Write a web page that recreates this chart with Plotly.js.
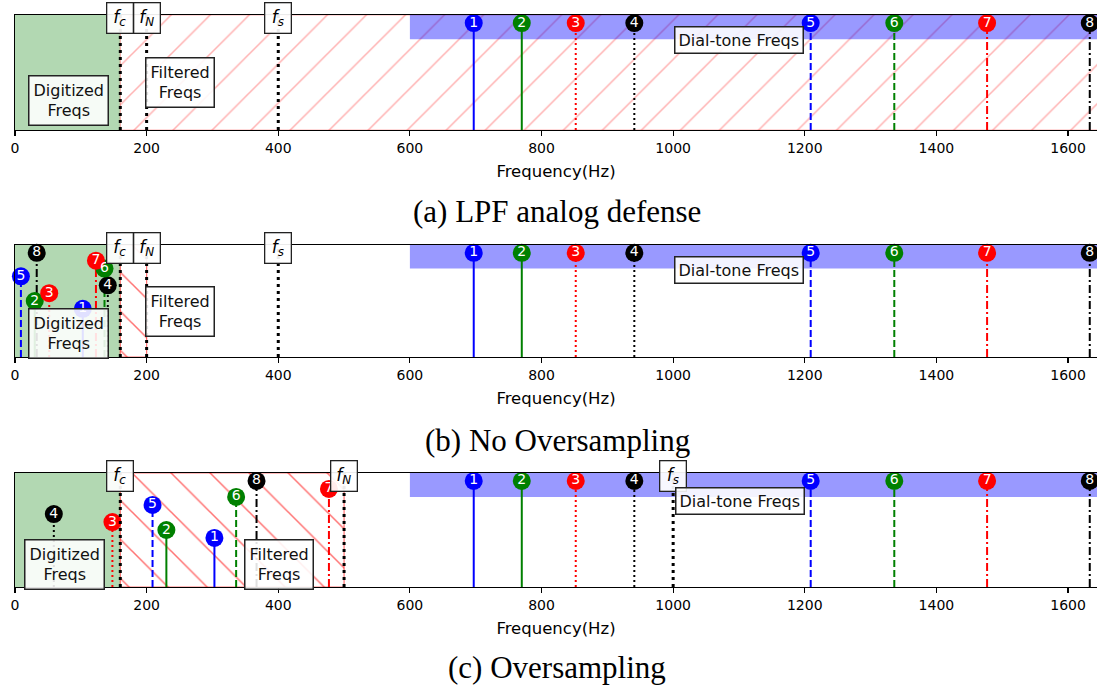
<!DOCTYPE html>
<html><head><meta charset="utf-8">
<script src="https://cdn.plot.ly/plotly-3.0.1.min.js"></script>
<style>html,body{margin:0;padding:0;background:#fff}#chart{width:1097px;height:685px}</style>
</head><body><div id="chart"></div>
<script>
// ---------------- data ----------------
const dialFreqs = [697, 770, 852, 941, 1209, 1336, 1477, 1633];
const toneLabels = ['1', '2', '3', '4', '5', '6', '7', '8'];
const toneColors = ['blue', 'green', 'red', 'black', 'blue', 'green', 'red', 'black'];
const toneStyles = ['solid', 'solid', 'dot', 'dot', 'dash', 'dash', 'dashdot', 'dashdot'];
const dialHeight = 0.93;
const aliasNoOversampling = [103, 30, 52, 141, 9, 136, 123, 33];
const aliasOversampling = [303, 230, 148, 59, 209, 336, 477, 367];
const aliasHeights = [0.43, 0.50, 0.57, 0.64, 0.72, 0.79, 0.86, 0.93];
const cutoffFreq = 160;
const nyquistNoOS = 200, samplingNoOS = 400;
const nyquistOS = 500, samplingOS = 1000;
const dialBandStart = 600, dialBandBottom = 0.79;
const tickVals = [0, 200, 400, 600, 800, 1000, 1200, 1400, 1600];
const tickText = ['0', '200', '400', '600', '800', '1000', '1200', '1400', '1600'];
const captions = ['(a) LPF analog defense', '(b) No Oversampling', '(c) Oversampling'];

// ---------------- layout helpers ----------------
const W = 1097, H = 685;
const py = p => 1 - p / H;
const px = p => p / W;
const X_MAX = 1644, X_FAR = 1700;
const dashMap = {solid: 'solid', dot: '2px,3px', dash: '7px,3px', dashdot: '8px,3px,2px,3px'};
const SANS = 'DejaVu Sans, sans-serif';

const panels = [
  {top: 15, bottom: 130, fN: nyquistNoOS, fs: samplingNoOS, hatchEnd: X_FAR, hatchShape: '/', hatchOpacity: 0.3, edge: 'rgba(255,0,0,0.3)', alias: null,
   dig: [68.5, 100], filt: [180, 83], dial: [739, 40], cap: 211},
  {top: 245, bottom: 357, fN: nyquistNoOS, fs: samplingNoOS, hatchEnd: nyquistNoOS, hatchShape: '\\', hatchOpacity: 0.55, edge: 'rgba(255,0,0,0.55)', alias: aliasNoOversampling,
   dig: [68.5, 333], filt: [180, 311], dial: [739, 270], cap: 440},
  {top: 473, bottom: 587, fN: nyquistOS, fs: samplingOS, hatchEnd: nyquistOS, hatchShape: '\\', hatchOpacity: 0.55, edge: 'rgba(255,0,0,0.55)', alias: aliasOversampling,
   dig: [64.5, 564], filt: [279, 564], dial: [740, 501], cap: 667}
];

const traces = [];
const annotations = [];
const layout = {
  width: W, height: H,
  margin: {l: 0, r: 0, t: 0, b: 0},
  paper_bgcolor: 'white', plot_bgcolor: 'white',
  showlegend: false,
  font: {family: SANS, color: 'black'},
  annotations: annotations
};

panels.forEach((p, i) => {
  const n = i === 0 ? '' : String(i + 1);
  const xa = 'x' + n, ya = 'y' + n;
  layout['xaxis' + n] = {
    domain: [px(15), 1], range: [0, X_MAX], anchor: ya,
    tickmode: 'array', tickvals: tickVals, ticktext: tickText,
    ticks: 'outside', ticklen: 5, tickwidth: 1.2, tickcolor: 'black',
    tickfont: {family: SANS, size: 14, color: 'black'},
    showline: true, linecolor: 'black', linewidth: 1.3, mirror: true,
    showgrid: false, zeroline: false,
    title: {text: 'Frequency(Hz)', font: {family: SANS, size: 16.5, color: 'black'}, standoff: 10}
  };
  layout['yaxis' + n] = {
    domain: [py(p.bottom), py(p.top)], range: [0, 1], anchor: xa,
    showline: true, linecolor: 'black', linewidth: 1.3, mirror: false,
    showticklabels: false, ticks: '', showgrid: false, zeroline: false, fixedrange: true
  };

  // digitized (green) region
  traces.push({type: 'scatter', xaxis: xa, yaxis: ya, x: [0, cutoffFreq, cutoffFreq, 0, 0], y: [0, 0, 1, 1, 0],
    fill: 'toself', fillcolor: 'rgb(178,216,178)', mode: 'lines', line: {width: 0}, hoverinfo: 'skip'});
  // filtered (hatched) region
  traces.push({type: 'scatter', xaxis: xa, yaxis: ya, x: [cutoffFreq, p.hatchEnd, p.hatchEnd, cutoffFreq, cutoffFreq], y: [0, 0, 1, 1, 0],
    fill: 'toself', fillcolor: 'rgba(0,0,0,0)', mode: 'lines', line: {width: 1.2, color: p.edge}, hoverinfo: 'skip',
    fillpattern: {shape: p.hatchShape, fgcolor: '#ff0000', fgopacity: p.hatchOpacity, bgcolor: 'rgba(0,0,0,0)', size: 27.6, solidity: 0.055, fillmode: 'overlay'}});
  // dial-tone band
  traces.push({type: 'scatter', xaxis: xa, yaxis: ya, x: [dialBandStart, X_FAR, X_FAR, dialBandStart, dialBandStart], y: [dialBandBottom, dialBandBottom, 1, 1, dialBandBottom],
    fill: 'toself', fillcolor: 'rgba(0,0,255,0.4)', mode: 'lines', line: {width: 0}, hoverinfo: 'skip'});

  // stems
  const addStems = (freqs, heights) => {
    freqs.forEach((f, k) => {
      traces.push({type: 'scatter', xaxis: xa, yaxis: ya, x: [f, f], y: [0, heights[k]], mode: 'lines',
        line: {color: toneColors[k], width: 2, dash: dashMap[toneStyles[k]]}, hoverinfo: 'skip'});
    });
    traces.push({type: 'scatter', xaxis: xa, yaxis: ya, x: freqs, y: heights, mode: 'markers+text',
      text: toneLabels, textposition: 'middle center', textfont: {family: SANS, size: 14, color: 'white'},
      marker: {size: 18, color: toneColors, line: {width: 0}}, cliponaxis: false, hoverinfo: 'skip'});
  };
  addStems(dialFreqs, dialFreqs.map(() => dialHeight));
  if (p.alias) addStems(p.alias, aliasHeights);

  // limit lines fc, fN, fs
  const limits = [[cutoffFreq, 'c'], [p.fN, 'N'], [p.fs, 's']];
  limits.forEach(([f, sub]) => {
    traces.push({type: 'scatter', xaxis: xa, yaxis: ya, x: [f, f], y: [0, 1], mode: 'lines',
      line: {color: 'black', width: 3, dash: '3px,4px'}, hoverinfo: 'skip'});
    annotations.push({xref: xa, yref: 'paper', x: f, y: py(p.top + 19), xanchor: 'center', yanchor: 'bottom',
      text: '<i>f<sub>' + sub + '</sub></i>', showarrow: false,
      font: {family: SANS, size: 17, color: 'black'}, bgcolor: 'rgba(255,255,255,0.92)',
      bordercolor: '#222', borderwidth: 1.3, borderpad: 2, width: 21, height: 25});
  });

  const boxStyle = {showarrow: false, xref: 'paper', yref: 'paper', xanchor: 'center', yanchor: 'middle',
    font: {family: SANS, size: 16, color: '#111'}, bgcolor: 'rgba(255,255,255,0.88)',
    bordercolor: '#222', borderwidth: 1.5, borderpad: 4};
  annotations.push(Object.assign({}, boxStyle, {x: px(p.dig[0]), y: py(p.dig[1]), text: 'Digitized<br>Freqs'}));
  annotations.push(Object.assign({}, boxStyle, {x: px(p.filt[0]), y: py(p.filt[1]), text: 'Filtered<br>Freqs'}));
  annotations.push(Object.assign({}, boxStyle, {x: px(p.dial[0]), y: py(p.dial[1]), text: 'Dial-tone Freqs', borderpad: 3}));

  annotations.push({xref: 'paper', yref: 'paper', x: px(557), y: py(p.cap), xanchor: 'center', yanchor: 'middle',
    text: captions[i], showarrow: false, font: {family: 'Liberation Serif, serif', size: 31, color: 'black'}});
});

Plotly.newPlot('chart', traces, layout, {staticPlot: true, displayModeBar: false});
</script>
</body></html>
